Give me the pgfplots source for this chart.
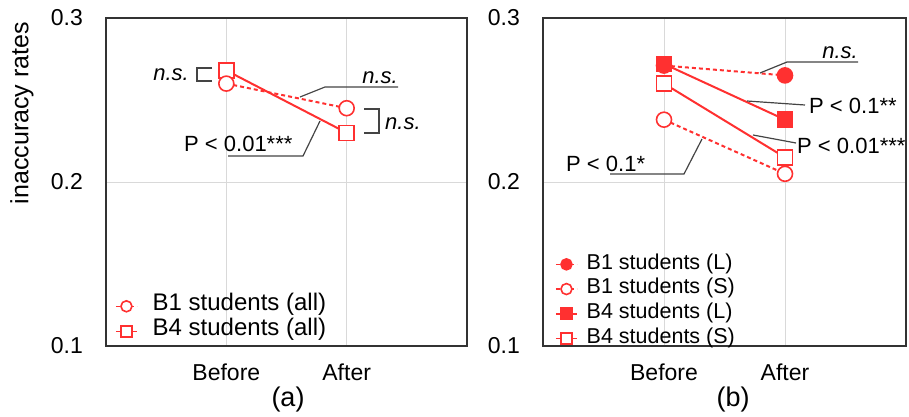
\documentclass[border=0pt]{standalone}
\usepackage{fontspec}
\setmainfont{Liberation Sans}
\usepackage{pgfplots}
\pgfplotsset{compat=1.18}
\definecolor{myred}{HTML}{FF3030}
\definecolor{annc}{HTML}{444444}
\newcommand{\fs}{\fontsize{23}{27}\selectfont}
\newcommand{\fa}{\fontsize{22}{26}\selectfont}
\pgfplotsset{
 myaxis/.style={
  scale only axis, anchor=south west,
  height=328pt,
  xmin=-1,xmax=2,ymin=0.1,ymax=0.3,
  xtick={0,1}, xticklabels={Before,After},
  ytick={0.1,0.2,0.3}, yticklabels={0.1,0.2,0.3},
  grid=major, major grid style={draw=black!15, line width=1pt},
  axis line style={draw=black!80, line width=1.5pt},
  major tick length=0pt, tick style={draw=none},
  every tick label/.append style={font=\fs},
  xticklabel style={anchor=base, inner sep=0pt, yshift=-34pt},
  yticklabel style={anchor=east, inner sep=0pt, xshift=-23pt},
  legend style={draw=none, fill=none, font=\fs, inner sep=0pt,
    cells={anchor=west},
    nodes={inner sep=0pt, text height=17pt, text depth=8pt},
    /tikz/every odd column/.append style={column sep=15pt}},
  legend cell align=left,
  legend image code/.code={\draw[mark repeat=2, mark phase=2, #1, mark size=5.5pt, line width=1.5pt] plot coordinates {(0pt,0pt) (10.5pt,0pt) (21pt,0pt)};},
 },
 b1o/.style={myred, line width=2pt, dash pattern=on 4pt off 3pt, mark=*, mark size=7.5pt, mark options={solid, fill=white, draw=myred, line width=1.6pt}},
 b4o/.style={myred, line width=2pt, mark=square*, mark size=7.5pt, mark options={solid, fill=white, draw=myred, line width=1.6pt}},
 b1f/.style={myred, line width=2pt, dash pattern=on 4pt off 3pt, mark=*, mark size=7.5pt, mark options={solid, fill=myred, draw=myred, line width=1.6pt}},
 b4f/.style={myred, line width=2pt, mark=square*, mark size=7.5pt, mark options={solid, fill=myred, draw=myred, line width=1.6pt}},
}
\begin{document}
\begin{tikzpicture}
\useasboundingbox (0,0) rectangle (909pt,416pt);
% (a)
\begin{axis}[myaxis, at={(106pt,70pt)}, width=361pt,
  reverse legend,
  legend style={at={(0,0)}, anchor=south west, xshift=9pt, yshift=2pt,
    font=\fontsize{24}{28}\selectfont}]
\addplot[b4o] coordinates {(0,0.268) (1,0.230)};
\addlegendentry{B4 students (all)}
\addplot[b1o] coordinates {(0,0.260) (1,0.245)};
\addlegendentry{B1 students (all)}
\end{axis}
% (b)
\begin{axis}[myaxis, at={(543pt,70pt)}, width=363pt,
  legend style={at={(0,0)}, anchor=south west, xshift=12pt, yshift=-5pt,
    font=\fontsize{21.5}{25}\selectfont,
    nodes={inner sep=0pt, text height=17pt, text depth=7.7pt},
    /tikz/every odd column/.append style={column sep=9pt}}]
\addplot[b1f] coordinates {(0,0.271) (1,0.265)};
\addlegendentry{B1 students (L)}
\addplot[b1o] coordinates {(0,0.238) (1,0.205)};
\addlegendentry{B1 students (S)}
\addplot[b4f] coordinates {(0,0.272) (1,0.238)};
\addlegendentry{B4 students (L)}
\addplot[b4o] coordinates {(0,0.260) (1,0.215)};
\addlegendentry{B4 students (S)}
\end{axis}
\begin{scope}[shift={(0pt,416pt)}, x=1pt, y=-1pt, ann/.style={draw=annc, line width=1.2pt},
  every node/.style={inner sep=0pt, font=\fa}]
% (a) annotations
\draw[ann] (212,68) -- (197,68) -- (197,81) -- (212,81);
\node[anchor=base east, font=\fa\itshape] at (189,81) {n.s.};
\draw[ann] (364,109) -- (379,109) -- (379,133) -- (364,133);
\node[anchor=base west, font=\fa\itshape] at (385,129) {n.s.};
\draw[ann] (300,97) -- (325,87) -- (398,87);
\node[anchor=base east, font=\fa\itshape] at (398,83) {n.s.};
\draw[ann] (320,121) -- (303,156) -- (228,156);
\node[anchor=base west] at (184,151) {P < 0.01***};
% (b) annotations
\draw[ann] (760,73) -- (787,62) -- (858,62);
\node[anchor=base east, font=\fa\itshape] at (858,59) {n.s.};
\draw[ann] (747,101) -- (805,105);
\node[anchor=base west] at (809,113) {P < 0.1**};
\draw[ann] (753,135) -- (796,143);
\node[anchor=base west] at (797,153) {P < 0.01***};
\draw[ann] (702,139) -- (684,174) -- (610,174);
\node[anchor=base west] at (566,171) {P < 0.1*};
% labels
\node[rotate=90, font=\fontsize{25}{30}\selectfont] at (22,113) {inaccuracy rates};
\node[font=\fontsize{27}{30}\selectfont] at (288,400) {(a)};
\node[font=\fontsize{27}{30}\selectfont] at (733,400) {(b)};
\end{scope}
\end{tikzpicture}
\end{document}
